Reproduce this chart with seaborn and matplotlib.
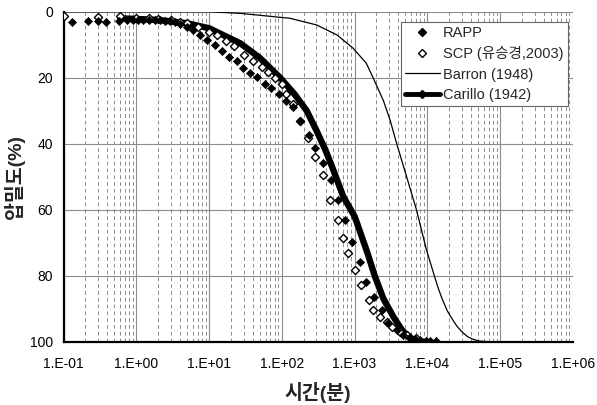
import numpy as np
import pandas as pd
import matplotlib
matplotlib.use('Agg')
import matplotlib.pyplot as plt
from matplotlib.lines import Line2D
from matplotlib.ticker import LogLocator, FuncFormatter, FixedLocator
import seaborn as sns

# 데이터
rapp_t = [0.13, 0.22, 0.3, 0.38, 0.58, 0.75, 0.9, 1.05, 1.25, 1.5, 1.8, 2.1, 2.5, 2.9, 3.4,
          4.0, 5.0, 6.0, 7.5, 9.5, 12, 15, 19, 24, 29, 37, 45, 58, 72, 93, 115, 144, 180,
          235, 283, 368, 480, 590, 730, 912, 1200, 1460, 1850, 2350, 2900, 3800, 4700,
          5800, 6800, 8000, 9500, 11000, 13000]
rapp_u = [3, 2.8, 2.8, 3, 2.8, 2.5, 2.5, 2.4, 2.5, 2.5, 2.5, 2.6, 2.7, 2.8, 3.0,
          3.7, 4.5, 5.5, 7, 8.5, 10, 12, 13.6, 15, 17, 18.7, 19.7, 21.8, 23, 25, 27, 29, 33,
          37.5, 41.4, 45.7, 51, 57, 63, 69.7, 76, 81.8, 86.4, 90.4, 94.4, 96.5, 98,
          98.7, 99.3, 99.6, 99.7, 99.8, 99.8]

scp_t = [0.1, 0.3, 0.6, 1.0, 1.5, 2, 3, 4, 5, 7, 10, 13, 17, 22, 30, 40, 53, 65, 81, 100,
         115, 144, 180, 230, 283, 365, 465, 590, 690, 820, 1010, 1230, 1580, 1800, 2220,
         2770, 3250, 4200, 5200, 7100]
scp_u = [1.3, 1.5, 1.3, 1.8, 2, 2.2, 2.5, 3, 3.5, 4.5, 6, 7, 9, 10.5, 13, 15, 16.7, 18.2,
         20, 22, 25, 28, 33, 38.4, 44, 49.5, 57, 63, 68.7, 73, 78.3, 82.8, 87.4, 90.4,
         92.4, 94, 95.5, 97, 98, 99]

barron_t = [0.1, 1, 10, 27, 130, 300, 570, 950, 1450, 1800, 2500, 3100, 3800, 5200, 7100,
            9700, 12500, 14000, 16000, 19000, 23000, 26000, 31000, 36000, 43000, 52000,
            70000, 100000]
barron_u = [0, 0, 0, 0.5, 2, 4, 7, 11, 15.6, 20, 27, 33, 40, 50, 60,
            72, 80, 83.5, 87, 90.8, 93.8, 95.5, 97.3, 98.5, 99.3, 99.8,
            100, 100]

carillo_t = [0.6, 1, 2, 5, 10, 27, 50, 95, 150, 220, 300, 400, 512, 700, 1000, 1100,
             1500, 1914, 2500, 3413, 4500, 5800, 8000, 10000]
carillo_u = [2, 2.2, 2.5, 3.5, 5, 9.6, 14, 20, 25, 30, 36, 42, 48, 56, 62, 64.5,
             73, 80.3, 87, 92.4, 96.5, 99, 100, 100]

x_ticks = [1e-1, 1e0, 1e1, 1e2, 1e3, 1e4, 1e5, 1e6]
y_ticks = [0, 20, 40, 60, 80, 100]

sns.set_style('white')
plt.rcParams['font.family'] = ['Liberation Sans', 'Noto Sans CJK KR', 'DejaVu Sans']
plt.rcParams['axes.unicode_minus'] = False

fig = plt.figure(figsize=(5.97, 4.05), dpi=100)
ax = fig.add_axes([0.1064, 0.1563, 0.853, 0.8148])

# 곡선
sns.lineplot(x=barron_t, y=barron_u, ax=ax, color='black', lw=0.9, sort=False)
sns.lineplot(x=carillo_t, y=carillo_u, ax=ax, color='black', lw=4.6, sort=False)

# 측정값
sns.scatterplot(x=scp_t, y=scp_u, ax=ax, marker='D', s=17, facecolor='white',
                edgecolor='black', linewidth=1.0, zorder=4)
sns.scatterplot(x=rapp_t, y=rapp_u, ax=ax, marker='D', s=17, color='black',
                edgecolor='black', linewidth=0.5, zorder=5)

ax.set_xscale('log')
ax.set_xlim(1e-1, 1e6)
ax.set_ylim(100, 0)

ax.xaxis.set_major_locator(FixedLocator(x_ticks))
ax.xaxis.set_minor_locator(LogLocator(base=10, subs=np.arange(2, 10), numticks=20))
ax.xaxis.set_major_formatter(FuncFormatter(lambda v, p: '1.E%+03d' % int(round(np.log10(v)))))
ax.set_yticks(y_ticks)

ax.grid(which='major', axis='both', color='0.55', lw=0.8, linestyle='-')
ax.grid(which='minor', axis='x', color='0.55', lw=0.7, linestyle=(0, (4, 3)))
ax.set_axisbelow(True)

for s in ['top', 'right']:
    ax.spines[s].set_visible(False)
for s in ['left', 'bottom']:
    ax.spines[s].set_color('black')
    ax.spines[s].set_linewidth(1.6)

ax.tick_params(axis='x', which='major', direction='inout', length=6, width=0.8,
               labelsize=10, pad=8, colors='black')
ax.tick_params(axis='x', which='minor', direction='in', length=3, width=0.6)
ax.tick_params(axis='y', which='major', direction='out', length=4, width=0.8,
               labelsize=10, colors='black')

ax.set_xlabel('시간(분)', fontsize=14, fontweight='bold')
ax.set_ylabel('압밀도(%)', fontsize=14, fontweight='bold')
ax.xaxis.set_label_coords(0.5, -0.122)
ax.yaxis.set_label_coords(-0.076, 0.5)

handles = [
    Line2D([], [], marker='D', color='black', ls='none', markersize=4.5),
    Line2D([], [], marker='D', markerfacecolor='white', markeredgecolor='black', ls='none', markersize=4.5),
    Line2D([], [], color='black', lw=0.9),
    Line2D([], [], color='black', lw=3.5, marker='D', markersize=4, markevery=[1]),
]
labels = ['RAPP', 'SCP (유승경,2003)', 'Barron (1948)', 'Carillo (1942)']
leg = ax.legend(handles, labels, loc='upper right', bbox_to_anchor=(0.99, 0.969),
                fontsize=10.5, frameon=True, fancybox=False, framealpha=1,
                edgecolor='0.4', handlelength=2.4, handletextpad=0.2,
                borderpad=0.3, labelspacing=0.42, borderaxespad=0)
leg.get_frame().set_linewidth(0.8)

fig.savefig('out.png', dpi=100)
